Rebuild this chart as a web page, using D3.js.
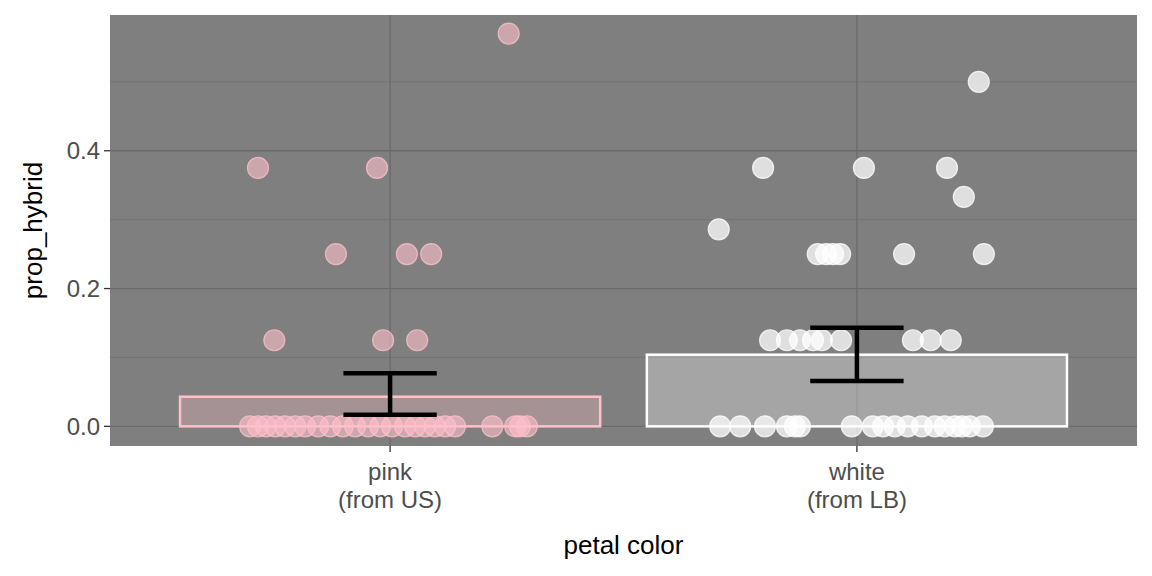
<!DOCTYPE html><html><head><script src="https://cdn.jsdelivr.net/npm/d3@7"></script>
<style>body{margin:0;background:#fff}</style></head><body><svg id="c" width="1152" height="576"></svg>
<script>
const categories=["pink\n(from US)","white\n(from LB)"];
const barMeans=[0.043,0.104];
const errLow=[0.017,0.066];
const errHigh=[0.077,0.143];
// jitter pixel offsets stored as fraction of category spacing
const pinkVals=[0.57,0.375,0.375,0.25,0.25,0.25,0.125,0.125,0.125,0,0,0,0,0,0,0,0,0,0,0,0,0,0,0,0,0,0,0,0,0,0,0,0];
const pinkJit=[0.254,-0.283,-0.028,-0.116,0.036,0.088,-0.248,-0.015,0.058,-0.300,-0.283,-0.266,-0.246,-0.225,-0.203,-0.182,-0.154,-0.128,-0.101,-0.075,-0.047,-0.021,0.004,0.032,0.054,0.075,0.096,0.118,0.139,0.219,0.268,0.278,0.293];
const whiteVals=[0.5,0.375,0.375,0.375,0.333,0.286,0.25,0.25,0.25,0.25,0.25,0.25,0.125,0.125,0.125,0.125,0.125,0.125,0.125,0.125,0.125,0,0,0,0,0,0,0,0,0,0,0,0,0,0,0,0,0,0];
const whiteJit=[0.261,-0.201,0.015,0.193,0.229,-0.296,-0.084,-0.066,-0.051,-0.036,0.101,0.272,-0.186,-0.150,-0.122,-0.094,-0.075,-0.034,0.120,0.158,0.201,-0.293,-0.250,-0.197,-0.150,-0.133,-0.122,-0.011,0.034,0.056,0.081,0.109,0.139,0.167,0.188,0.210,0.225,0.242,0.270];
const yTicks=[0,0.2,0.4];
const yMinor=[0.1,0.3,0.5];
const colors=["#FFC0CB","#FFFFFF"];
const svg=d3.select("#c");
const L=110,R=1137,T=15,B=446;
const x=d3.scaleLinear().domain([-0.6,1.6]).range([L,R]);
const y=d3.scaleLinear().domain([-0.0285,0.597]).range([B,T]);
svg.append("rect").attr("x",L).attr("y",T).attr("width",R-L).attr("height",B-T).attr("fill","#7f7f7f");
const g=svg.append("g");
yMinor.forEach(v=>g.append("line").attr("x1",L).attr("x2",R).attr("y1",y(v)).attr("y2",y(v)).attr("stroke","#737373").attr("stroke-width",1));
yTicks.forEach(v=>g.append("line").attr("x1",L).attr("x2",R).attr("y1",y(v)).attr("y2",y(v)).attr("stroke","#6b6b6b").attr("stroke-width",1.3));
[0,1].forEach(i=>g.append("line").attr("x1",x(i)).attr("x2",x(i)).attr("y1",T).attr("y2",B).attr("stroke","#6b6b6b").attr("stroke-width",1.3));
// bars
[0,1].forEach(i=>{
 g.append("rect").attr("x",x(i-0.45)).attr("width",x(0.9)-x(0)).attr("y",y(barMeans[i])).attr("height",y(0)-y(barMeans[i]))
  .attr("fill",colors[i]).attr("fill-opacity",0.3).attr("stroke",colors[i]).attr("stroke-width",2.5);
});
// points
const pts=[[pinkVals,pinkJit,0],[whiteVals,whiteJit,1]];
pts.forEach(([vals,jit,i])=>{
 vals.forEach((v,k)=>g.append("circle").attr("cx",x(i+jit[k])).attr("cy",y(v)).attr("r",10.5)
  .attr("fill",colors[i]).attr("fill-opacity",i?0.75:0.6).attr("stroke",colors[i]).attr("stroke-opacity",0.8).attr("stroke-width",1.2));
});
// error bars
[0,1].forEach(i=>{
 const e=g.append("g").attr("stroke","#000").attr("stroke-width",4.5);
 e.append("line").attr("x1",x(i)).attr("x2",x(i)).attr("y1",y(errLow[i])).attr("y2",y(errHigh[i]));
 [errLow[i],errHigh[i]].forEach(v=>e.append("line").attr("x1",x(i-0.1)).attr("x2",x(i+0.1)).attr("y1",y(v)).attr("y2",y(v)));
});
// axes
yTicks.forEach(v=>{
 svg.append("line").attr("x1",L-6).attr("x2",L).attr("y1",y(v)).attr("y2",y(v)).attr("stroke","#333").attr("stroke-width",1.3);
 svg.append("text").attr("x",L-10).attr("y",y(v)).attr("dy","0.35em").attr("text-anchor","end").attr("font-family","Liberation Sans, Arial").attr("font-size",24).attr("fill","#4d4d4d").text(v.toFixed(1));
});
categories.forEach((c,i)=>{
 svg.append("line").attr("x1",x(i)).attr("x2",x(i)).attr("y1",B).attr("y2",B+6).attr("stroke","#333").attr("stroke-width",1.3);
 c.split("\n").forEach((s,j)=>svg.append("text").attr("x",x(i)).attr("y",480+j*28).attr("text-anchor","middle").attr("font-family","Liberation Sans, Arial").attr("font-size",24).attr("fill","#4d4d4d").text(s));
});
svg.append("text").attr("x",(L+R)/2).attr("y",554).attr("text-anchor","middle").attr("font-family","Liberation Sans, Arial").attr("font-size",26).attr("fill","#000").text("petal color");
svg.append("text").attr("transform",`translate(42,${(T+B)/2}) rotate(-90)`).attr("text-anchor","middle").attr("font-family","Liberation Sans, Arial").attr("font-size",26).attr("fill","#000").text("prop_hybrid");
</script></body></html>
